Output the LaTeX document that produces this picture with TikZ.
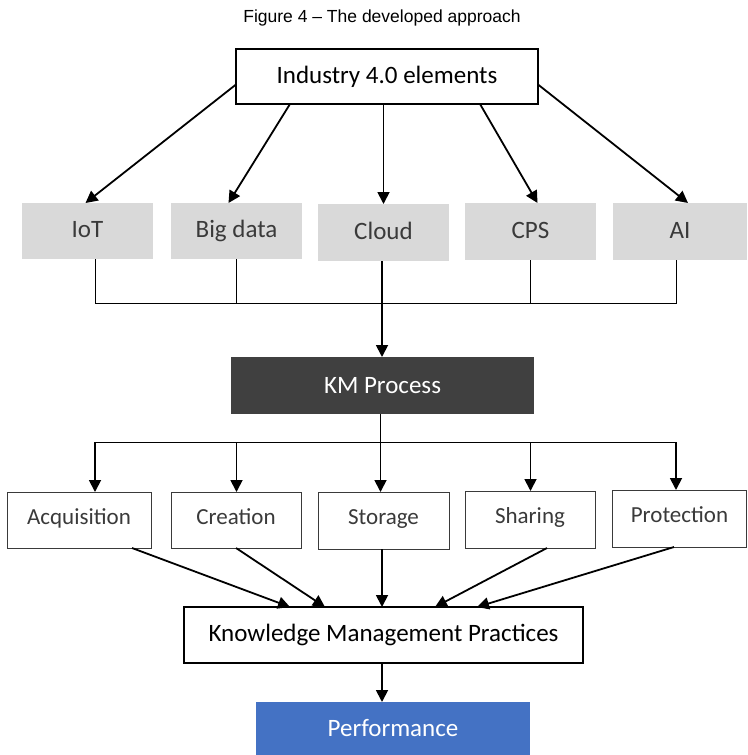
\documentclass[tikz,border=0pt]{standalone}
\usepackage{fontspec}
\setmainfont{Carlito}
\newfontfamily\titlefont{Liberation Sans}
\usetikzlibrary{arrows.meta,calc}
\definecolor{boxgray}{HTML}{D9D9D9}
\definecolor{kmdark}{HTML}{404040}
\definecolor{perfblue}{HTML}{4472C4}
\definecolor{txtgray}{HTML}{3A3A3A}
\begin{document}
\begin{tikzpicture}[x=1pt,y=-1pt,
  every node/.style={inner sep=0pt,outer sep=0pt},
  elembox/.style={fill=boxgray,minimum width=131pt,minimum height=56pt,text=txtgray,
    font=\fontsize{25}{30}\selectfont,text height=17pt,text depth=4pt},
  stagebox/.style={draw=txtgray,line width=0.8pt,fill=white,minimum width=130pt,minimum height=56pt,
    text=txtgray,font=\fontsize{23}{27}\selectfont,text height=14pt,text depth=5.2pt},
  arr/.style={line width=1.8pt,-{Triangle[length=12pt,width=12pt]}},
  bus/.style={line width=0.9pt}]
\useasboundingbox (0,0) rectangle (747,755);

% caption
\node[font=\titlefont\fontsize{17.5}{20}\selectfont] (title) at (382,18) {Figure 4 – The developed approach};

% top element
\node[draw=black,line width=1.1pt,minimum width=302pt,minimum height=55pt,font=\fontsize{25}{30}\selectfont] (ind) at (387,76.5) {Industry 4.0 elements};

% Industry 4.0 technologies
\node[elembox] (iot) at (87.5,231) {IoT};
\node[elembox] (big) at (236.5,231) {Big data};
\node[elembox,minimum height=57pt] (cloud) at (383.5,232.5) {Cloud};
\node[elembox,minimum height=57pt] (cps) at (530.5,231.5) {CPS};
\node[elembox,minimum width=134pt,minimum height=57pt] (ai) at (680,231.5) {AI};

% KM process
\node[fill=kmdark,minimum width=303pt,minimum height=57pt,text=white,font=\fontsize{25}{30}\selectfont] (km) at (382.5,385.5) {KM Process};

% KM stages
\node[stagebox,minimum width=144pt] (acq) at (79,520) {Acquisition};
\node[stagebox] (cre) at (236,520) {Creation};
\node[stagebox,minimum width=131pt,minimum height=57pt] (sto) at (383.5,520.5) {Storage};
\node[stagebox,minimum height=57pt] (sha) at (530,519.5) {Sharing};
\node[stagebox,minimum width=134pt,minimum height=57pt] (pro) at (679.5,518.5) {Protection};

% practices and outcome
\node[draw=black,line width=1.8pt,fill=white,minimum width=399pt,minimum height=56pt,font=\fontsize{25}{30}\selectfont] (kmp) at (383.5,635) {Knowledge Management Practices};
\node[fill=perfblue,minimum width=274pt,minimum height=53pt,text=white,font=\fontsize{25}{30}\selectfont] (perf) at (393,728.5) {Performance};

% bus rails and drop points
\coordinate (busA) at (0,303);
\coordinate (busB) at (0,442);
\coordinate (left) at (95,0);
\coordinate (right) at (676,0);

% Industry 4.0 -> technologies
\draw[arr] ($(ind.west)+(0,8)$) -- ($(iot.north)+(-2,0)$);
\draw[arr] ($(ind.south)+(-97,0)$) -- ($(big.north)+(-8,0)$);
\draw[arr] (cloud.north |- ind.south) -- (cloud.north);
\draw[arr] ($(ind.south)+(93,0)$) -- ($(cps.north)+(7,0)$);
\draw[arr] ($(ind.east)+(0,8)$) -- ($(ai.north)+(8,0)$);

% technologies -> KM process
\draw[bus] (iot.south -| left) -- (busA -| left) -- (busA -| right) -- (ai.south -| right);
\draw[bus] (big.south) -- (big.south |- busA);
\draw[bus] (cps.south) -- (cps.south |- busA);
\draw[arr] ($(cloud.south)+(-1.5,0)$) -- ($(km.north)+(-0.5,0)$);

% KM process -> stages
\draw[bus] (busB -| left) -- (busB -| right);
\draw[arr] (busB -| left) -- (acq.north -| left);
\draw[arr] (big.south |- busB) -- (cre.north -| big.south);
\draw[arr] ($(km.south)+(-2,0)$) -- ($(sto.north)+(-3,0)$);
\draw[arr] (cps.south |- busB) -- (sha.north -| cps.south);
\draw[arr] (busB -| right) -- (pro.north -| right);

% stages -> practices
\draw[arr] ($(acq.south)+(53,0)$) -- ($(kmp.north)+(-93.5,0)$);
\draw[arr] (cre.south) -- ($(kmp.north)+(-58.5,0)$);
\draw[arr] ($(sto.south)+(-1.5,0)$) -- ($(kmp.north)+(-1.5,0)$);
\draw[arr] ($(sha.south)+(17,0)$) -- ($(kmp.north)+(51.5,0)$);
\draw[arr] ($(pro.south)+(-5.5,0)$) -- ($(kmp.north)+(93.5,0)$);

% practices -> performance
\draw[arr] ($(kmp.south)+(-1.5,0)$) -- ($(perf.north -| kmp.south)+(-1.5,0)$);
\end{tikzpicture}
\end{document}
